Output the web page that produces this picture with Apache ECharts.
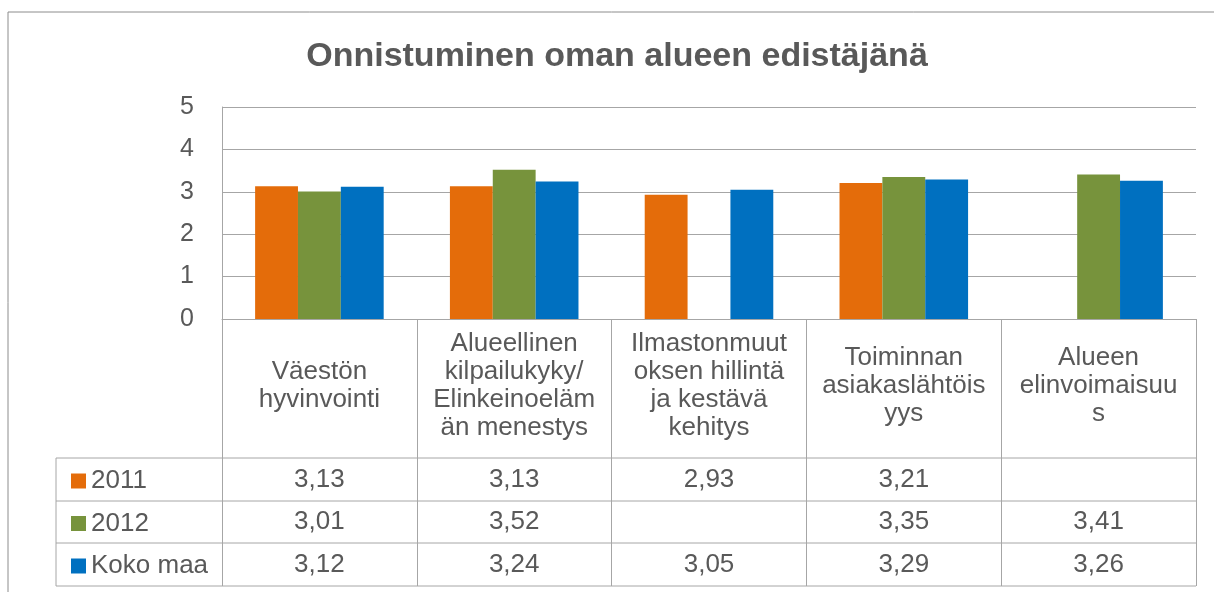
<!DOCTYPE html>
<html>
<head>
<meta charset="utf-8">
<script src="https://cdn.jsdelivr.net/npm/echarts@6/dist/echarts.min.js"></script>
<style>
  html, body { margin: 0; padding: 0; background: #fff; }
  #chart { width: 1214px; height: 592px; }
</style>
</head>
<body>
<div id="chart"></div>
<script>
// chart data
const categories = [
  'Väestön\nhyvinvointi',
  'Alueellinen\nkilpailukyky/\nElinkeinoeläm\nän menestys',
  'Ilmastonmuut\noksen hillintä\nja kestävä\nkehitys',
  'Toiminnan\nasiakaslähtöis\nyys',
  'Alueen\nelinvoimaisuu\ns'
];
const seriesNames = ['2011', '2012', 'Koko maa'];
const values2011 = [3.13, 3.13, 2.93, 3.21, null];
const values2012 = [3.01, 3.52, null, 3.35, 3.41];
const valuesKokoMaa = [3.12, 3.24, 3.05, 3.29, 3.26];
const yTicks = [0, 1, 2, 3, 4, 5];

const seriesValues = [values2011, values2012, valuesKokoMaa];
const colors = ['#E46C0A', '#77933C', '#0070C0'];

// layout of the plot + data table (pixels)
const plotLeft = 222, plotRight = 1196, plotTop = 107, plotBottom = 319;
const tableLeft = 56;
const rowLines = [458, 501, 543, 586];
const lineColor = '#a6a6a6';
const textColor = '#595959';
const font = '"Liberation Sans", Arial, sans-serif';

const fmt = v => (v == null ? '' : v.toFixed(2).replace('.', ','));

const chart = echarts.init(document.getElementById('chart'));

// one hidden category axis per table row, its labels are the row values
const valueAxes = seriesValues.map((vals, r) => ({
  type: 'category',
  gridIndex: 0,
  position: 'bottom',
  data: categories,
  axisLine: { show: false },
  axisTick: { show: false },
  axisLabel: {
    interval: 0,
    margin: (rowLines[r] + rowLines[r + 1]) / 2 - plotBottom,
    verticalAlign: 'middle',
    fontFamily: font,
    fontSize: 26,
    color: textColor,
    formatter: (v, i) => fmt(vals[i])
  }
}));

// table lines
const tableGraphics = rowLines.map(y => ({
  type: 'line',
  silent: true,
  shape: { x1: tableLeft, y1: y, x2: plotRight, y2: y },
  style: { stroke: lineColor, lineWidth: 1 }
}));
tableGraphics.push({
  type: 'line',
  silent: true,
  shape: { x1: tableLeft, y1: rowLines[0], x2: tableLeft, y2: rowLines[rowLines.length - 1] },
  style: { stroke: lineColor, lineWidth: 1 }
});
// outer chart border
tableGraphics.push({
  type: 'rect',
  silent: true,
  shape: { x: 8, y: 12, width: 1400, height: 800 },
  style: { fill: null, stroke: '#8c8c8c', lineWidth: 1 }
});

const option = {
  animation: false,
  color: colors,
  title: {
    text: 'Onnistuminen oman alueen edistäjänä',
    left: 612,
    top: 35,
    textAlign: 'center',
    textStyle: {
      fontFamily: font,
      fontSize: 34,
      fontWeight: 'bold',
      color: textColor
    }
  },
  legend: {
    data: seriesNames,
    orient: 'vertical',
    left: 66,
    top: 463,
    icon: 'rect',
    itemWidth: 15,
    itemHeight: 15,
    itemGap: 16.5,
    selectedMode: false,
    textStyle: {
      fontFamily: font,
      fontSize: 26,
      lineHeight: 26,
      color: textColor
    }
  },
  grid: {
    left: plotLeft,
    top: plotTop,
    width: plotRight - plotLeft,
    height: plotBottom - plotTop,
    containLabel: false
  },
  xAxis: [
    {
      type: 'category',
      data: categories,
      axisLine: { show: true, lineStyle: { color: lineColor, width: 1 } },
      axisTick: {
        show: true,
        length: rowLines[rowLines.length - 1] - plotBottom,
        lineStyle: { color: lineColor, width: 1 }
      },
      axisLabel: {
        interval: 0,
        margin: 67,
        verticalAlign: 'middle',
        fontFamily: font,
        fontSize: 26,
        lineHeight: 28,
        color: textColor
      }
    },
    ...valueAxes
  ],
  yAxis: {
    type: 'value',
    min: yTicks[0],
    max: yTicks[yTicks.length - 1],
    interval: 1,
    axisLine: { show: true, lineStyle: { color: lineColor, width: 1 } },
    axisTick: { show: false },
    axisLabel: {
      margin: 28,
      fontFamily: font,
      fontSize: 25,
      color: textColor
    },
    splitLine: { show: true, lineStyle: { color: lineColor, width: 1 } }
  },
  series: seriesNames.map((name, i) => ({
    name: name,
    type: 'bar',
    xAxisIndex: 0,
    barGap: '0%',
    barCategoryGap: '34%',
    data: seriesValues[i],
    itemStyle: { color: colors[i] }
  })),
  graphic: tableGraphics
};

chart.setOption(option);
</script>
</body>
</html>
